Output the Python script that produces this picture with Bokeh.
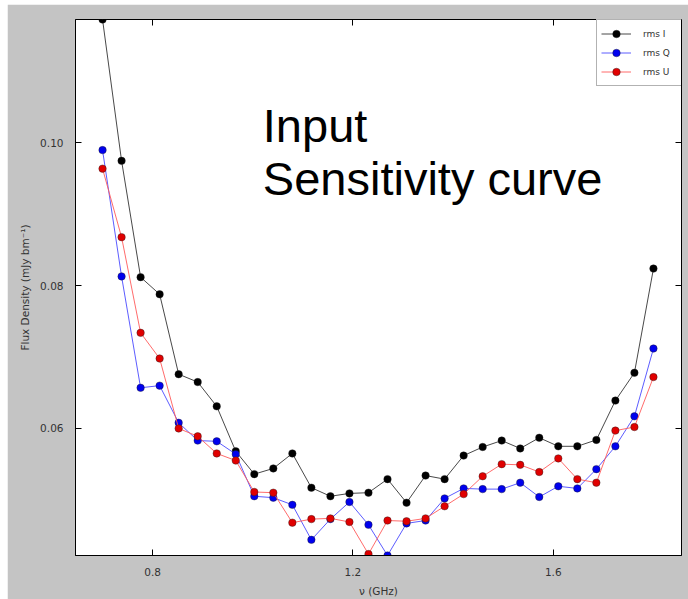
from bokeh.plotting import figure
from bokeh.models import (Range1d, FixedTicker, LinearAxis, Label, Spacer,
                          CustomJSTickFormatter, Legend, PrintfTickFormatter)
from bokeh.layouts import column, row
from bokeh.embed import file_html
from bokeh.resources import INLINE

freq_ghz = [0.700, 0.738, 0.776, 0.814, 0.852, 0.890, 0.928, 0.966, 1.003, 1.041,
            1.079, 1.117, 1.155, 1.193, 1.231, 1.269, 1.307, 1.345, 1.383, 1.421,
            1.459, 1.497, 1.534, 1.572, 1.610, 1.648, 1.686, 1.724, 1.762, 1.800]

rms_i = [0.1173, 0.0975, 0.0812, 0.0788, 0.0676, 0.0665, 0.0631, 0.0568, 0.0536, 0.0544,
         0.0565, 0.0517, 0.0505, 0.0509, 0.0510, 0.0529, 0.0496, 0.0534, 0.0529, 0.0562,
         0.0574, 0.0583, 0.0572, 0.0587, 0.0575, 0.0575, 0.0584, 0.0639, 0.0678, 0.0824]

rms_q = [0.0990, 0.0813, 0.0657, 0.0660, 0.0608, 0.0583, 0.0582, 0.0564, 0.0505, 0.0503,
         0.0493, 0.0444, 0.0473, 0.0497, 0.0465, 0.0422, 0.0467, 0.0471, 0.0502, 0.0516,
         0.0515, 0.0515, 0.0524, 0.0504, 0.0519, 0.0516, 0.0543, 0.0575, 0.0617, 0.0712]

rms_u = [0.0964, 0.0868, 0.0734, 0.0698, 0.0600, 0.0589, 0.0565, 0.0555, 0.0511, 0.0510,
         0.0468, 0.0473, 0.0474, 0.0469, 0.0424, 0.0471, 0.0470, 0.0474, 0.0491, 0.0508,
         0.0533, 0.0550, 0.0549, 0.0539, 0.0558, 0.0529, 0.0524, 0.0597, 0.0602, 0.0672]

x_ticks = [0.8, 1.2, 1.6]
y_ticks = [0.06, 0.08, 0.10]
series_names = ["rms I", "rms Q", "rms U"]

FONT = "DejaVu Sans"
BG = "#c4c4c4"

p = figure(width=681, height=595, output_backend="svg", toolbar_location=None,
           x_range=Range1d(0.646, 1.856), y_range=Range1d(0.0422, 0.1173),
           min_border_left=68, min_border_right=7, min_border_top=15, min_border_bottom=43,
           background_fill_color="white", border_fill_color=BG)
p.xgrid.visible = False
p.ygrid.visible = False
p.outline_line_color = "black"
p.outline_line_width = 1

for ax, ticks in ((p.xaxis[0], x_ticks), (p.yaxis[0], y_ticks)):
    ax.ticker = FixedTicker(ticks=ticks, minor_ticks=[])
    ax.major_tick_in = 6
    ax.major_tick_out = 0
    ax.minor_tick_in = 0
    ax.minor_tick_out = 0
    ax.major_tick_line_color = "black"
    ax.axis_line_color = "black"
    ax.major_label_text_font = FONT
    ax.major_label_text_font_size = "10.5px"
    ax.major_label_text_color = "#333333"
    ax.major_label_standoff = 12
    ax.axis_label_text_font = FONT
    ax.axis_label_text_font_size = "10.5px"
    ax.axis_label_text_font_style = "normal"
    ax.axis_label_text_color = "#333333"
    ax.axis_label_standoff = 6

p.xaxis[0].formatter = PrintfTickFormatter(format="%.1f")
p.yaxis[0].formatter = PrintfTickFormatter(format="%.2f")
p.xaxis[0].axis_label = "\u03bd (GHz)"
p.yaxis[0].axis_label = "Flux Density (mJy bm\u207b\u00b9)"
p.yaxis[0].major_label_orientation = "horizontal"

blank = CustomJSTickFormatter(code="return ''")
for side, ticks in (("above", x_ticks), ("right", y_ticks)):
    ax = LinearAxis(ticker=FixedTicker(ticks=ticks, minor_ticks=[]), formatter=blank,
                    major_tick_in=6, major_tick_out=0, minor_tick_in=0, minor_tick_out=0,
                    axis_line_color=None, major_tick_line_color="black",
                    major_label_standoff=0)
    p.add_layout(ax, side)

styles = [("black", "#333333"), ("#0000ee", "#4a4aff"), ("#e00000", "#ff5a5a")]
items = []
for name, ys, (fill, lcol) in zip(series_names, [rms_i, rms_q, rms_u], styles):
    l = p.line(freq_ghz, ys, line_color=lcol, line_width=0.9)
    s = p.scatter(freq_ghz, ys, size=7.5, fill_color=fill, line_color="#222222", line_width=0.4)
    items.append((name, [l, s]))

legend = Legend(items=items, location=(521, 469), orientation="vertical",
                padding=4, spacing=0, margin=0, glyph_width=30, glyph_height=19,
                label_height=19, label_standoff=12, label_width=34,
                label_text_font=FONT, label_text_font_size="9px", label_text_color="#333333",
                border_line_color="#666666", border_line_width=1,
                background_fill_color="white", background_fill_alpha=1)
p.add_layout(legend, "center")

lab1 = Label(x=1.02, y=0.1024, text="Input", text_font="Liberation Sans",
             text_font_size="47px", text_color="black", text_baseline="alphabetic")
lab2 = Label(x=1.02, y=0.0950, text="Sensitivity curve", text_font="Liberation Sans",
             text_font_size="47px", text_color="black", text_baseline="alphabetic")
p.add_layout(lab1)
p.add_layout(lab2)

layout = column(Spacer(height=4, width=688), row(Spacer(width=7, height=595), p, spacing=0), spacing=0)

open("out.html", "w").write(file_html(layout, INLINE))
